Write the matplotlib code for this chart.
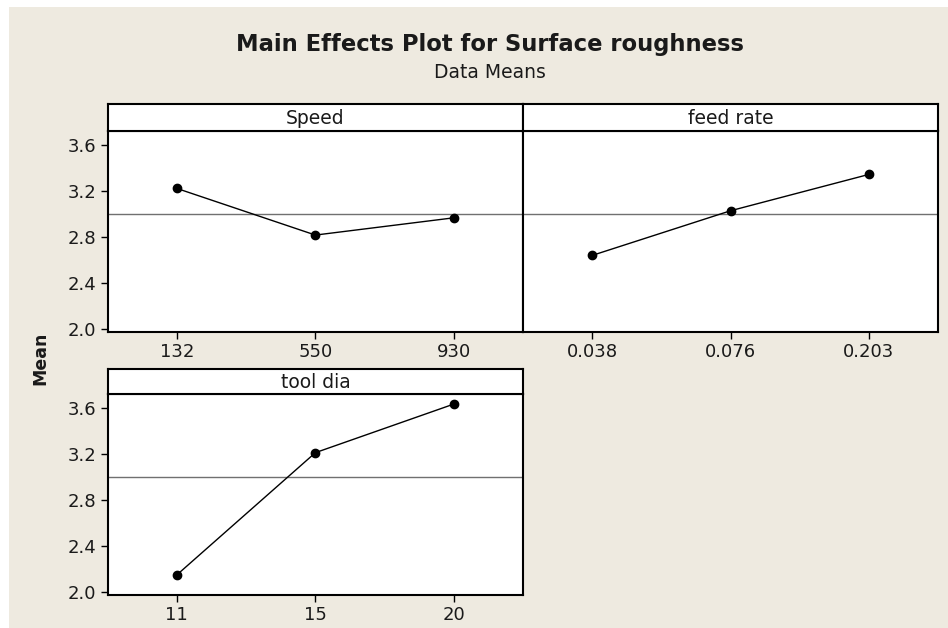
import matplotlib
matplotlib.use("Agg")
import matplotlib.pyplot as plt
from matplotlib.patches import Rectangle

# Main effects: mean surface roughness at each factor level
speed_levels = ["132", "550", "930"]
speed_means = [3.224, 2.819, 2.969]

feed_levels = ["0.038", "0.076", "0.203"]
feed_means = [2.643, 3.030, 3.345]

dia_levels = ["11", "15", "20"]
dia_means = [2.152, 3.215, 3.638]

grand_mean = 3.0
y_ticks = [2.0, 2.4, 2.8, 3.2, 3.6]

W, H = 948, 628
bg = "#eeeae0"
txt = "#1a1a1a"

plt.rcParams["font.family"] = ["DejaVu Sans"]

fig = plt.figure(figsize=(W / 100, H / 100), dpi=100, facecolor="white")
fig.patches.append(Rectangle((9 / W, 0), 1 - 9 / W, 1 - 7 / H, transform=fig.transFigure,
                             facecolor=bg, edgecolor="none", zorder=-10))


def box(x0, y0, x1, y1):
    # pixel box (top-left origin) -> figure fraction rect
    return [x0 / W, 1 - y1 / H, (x1 - x0) / W, (y1 - y0) / H]


def panel(rect, hdr_rect, name, levels, means, show_y=True):
    ax = fig.add_axes(rect)
    ax.set_facecolor("white")
    x = range(1, len(levels) + 1)
    ax.axhline(grand_mean, color="#707070", lw=1.0, zorder=1)
    ax.plot(x, means, color="black", lw=1.0, marker="o", ms=6, zorder=3)
    ax.set_xlim(0.5, 3.5)
    ax.set_ylim(1.975, 3.725)
    ax.set_xticks(list(x))
    ax.set_xticklabels(levels)
    ax.set_yticks(y_ticks)
    ax.set_yticklabels([f"{v:.1f}" for v in y_ticks] if show_y else [])
    ax.tick_params(direction="out", length=5, width=1, color="black",
                   labelsize=13, labelcolor=txt, pad=3)
    if not show_y:
        ax.tick_params(axis="y", length=0)
    for s in ax.spines.values():
        s.set_linewidth(1.5)
        s.set_color("black")

    hx = fig.add_axes(hdr_rect)
    hx.set_facecolor("white")
    hx.set_xticks([])
    hx.set_yticks([])
    for s in hx.spines.values():
        s.set_linewidth(1.5)
        s.set_color("black")
    hx.text(0.5, 0.45, name, ha="center", va="center", fontsize=13.5, color=txt,
            transform=hx.transAxes)
    return ax


panel(box(107.5, 130.7, 523.3, 332.3), box(107.5, 104.3, 523.3, 130.7),
      "Speed", speed_levels, speed_means)
panel(box(523.3, 130.7, 937.7, 332.3), box(523.3, 104.3, 937.7, 130.7),
      "feed rate", feed_levels, feed_means, show_y=False)
panel(box(107.5, 394, 523.3, 595.3), box(107.5, 369.3, 523.3, 394),
      "tool dia", dia_levels, dia_means)

fig.text(490 / W, 1 - 44 / H, "Main Effects Plot for Surface roughness",
         ha="center", va="center", fontsize=16.3, fontweight="bold", color=txt)
fig.text(490 / W, 1 - 73 / H, "Data Means", ha="center", va="center",
         fontsize=13.5, color=txt)
fig.text(40 / W, 1 - 358 / H, "Mean", ha="center", va="center", rotation=90,
         fontsize=12.5, fontweight="bold", color=txt)

fig.savefig("out.png", dpi=100, facecolor="white")
